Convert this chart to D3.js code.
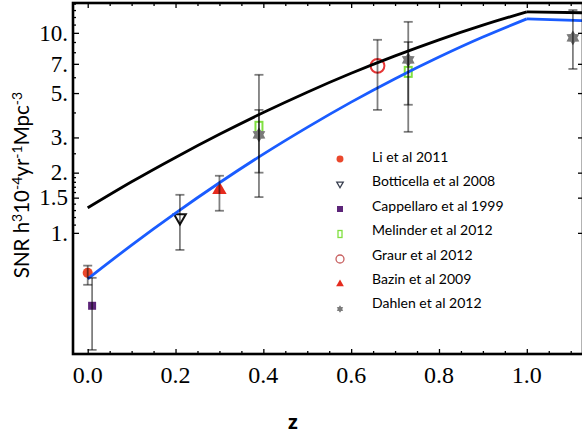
<!DOCTYPE html>
<html>
<head>
<meta charset="utf-8">
<script src="https://cdn.jsdelivr.net/npm/d3@7/dist/d3.min.js"></script>
<style>
	body { margin: 0; background: #fff; }
	svg { display: block; }
	.tick line { stroke: #000; stroke-width: 1.3; }
</style>
</head>
<body>
<svg id="chart" width="582" height="436"></svg>
<script>
// model curves (z grid shared by both)
var zGrid = [0, 0.1, 0.2, 0.3, 0.4, 0.5, 0.6, 0.7, 0.8, 0.9, 1.0, 1.13];
var blackRate = [1.334, 1.80, 2.384, 3.11, 3.996, 5.05, 6.28, 7.67, 9.23, 10.93, 12.74, 12.6];
var blueRate = [0.589, 0.869, 1.256, 1.78, 2.476, 3.37, 4.505, 5.90, 7.57, 9.53, 11.75, 11.5];

// measurements
var sources = ["Li et al 2011", "Botticella et al 2008", "Cappellaro et al 1999", "Melinder et al 2012", "Graur et al 2012", "Bazin et al 2009", "Dahlen et al 2012"];
var pointSource = [0, 2, 1, 5, 3, 6, 4, 3, 6, 6];
var pointZ = [0.0, 0.01, 0.21, 0.30, 0.39, 0.39, 0.66, 0.73, 0.73, 1.105];
var pointRate = [0.631, 0.432, 1.19, 1.64, 3.39, 3.09, 6.84, 6.38, 7.33, 9.44];
var pointLo = [0.55, 0.26, 0.822, 1.29, 2.0, 1.51, 4.12, 4.37, 3.2, 6.6];
var pointHi = [0.686, 0.596, 1.55, 1.93, 4.12, 6.17, 9.23, 9.0, 11.35, 13.0];

// axis ticks
var xMajor = [0, 0.2, 0.4, 0.6, 0.8, 1.0];
var xMinor = [0.05, 0.1, 0.15, 0.25, 0.3, 0.35, 0.45, 0.5, 0.55, 0.65, 0.7, 0.75, 0.85, 0.9, 0.95, 1.05, 1.1];
var yMajor = [1, 1.5, 2, 3, 5, 7, 10];
var yMajorLabels = ["1.", "1.5", "2.", "3.", "5.", "7.", "10."];
var yMinor = [1.1, 1.2, 1.3, 1.4, 1.6, 1.7, 1.8, 1.9, 2.5, 4, 6, 8, 9, 11, 12, 13, 14];

var svg = d3.select("#chart");
var frame = {left: 73, right: 583, top: 3, bottom: 354};

var x = d3.scaleLinear().domain([-0.0335, 1.128]).range([frame.left, frame.right]);
var y = d3.scaleLog().domain([0.248, 14.1]).range([frame.bottom, frame.top]);

svg.append("defs").append("clipPath").attr("id", "plotclip")
	.append("rect").attr("x", frame.left).attr("y", frame.top)
	.attr("width", frame.right - frame.left).attr("height", frame.bottom - frame.top);

// six pointed star for Dahlen
var hexStar = {
	draw: function(context, size) {
		var r = Math.sqrt(size / 2.2), ri = r * 0.6;
		for (var i = 0; i < 12; i++) {
			var a = i * Math.PI / 6 - Math.PI / 2, rr = i % 2 ? ri : r;
			if (i == 0) context.moveTo(rr * Math.cos(a), rr * Math.sin(a));
			else context.lineTo(rr * Math.cos(a), rr * Math.sin(a));
		}
		context.closePath();
	}
};

// marker style per source
var styles = [
	{ type: d3.symbolCircle, size: 80, legendSize: 38, fill: "#ea482c", stroke: "none", sw: 0, rot: 0 },
	{ type: d3.symbolTriangle, size: 60, legendSize: 18, fill: "#fff", stroke: "#111", sw: 2, lsw: 1.3, lstroke: "#3a4050", rot: 180 },
	{ type: d3.symbolSquare, size: 64, legendSize: 36, fill: "#5c2579", stroke: "none", sw: 0, rot: 0 },
	{ type: "rect", w: 7, h: 10, lw: 4, lh: 7, fill: "none", stroke: "#80e040", sw: 2, lsw: 1.3, rot: 0 },
	{ type: d3.symbolCircle, size: 150, legendSize: 50, fill: "none", stroke: "#e63535", sw: 2, lsw: 1.3, lstroke: "#c86060", rot: 0 },
	{ type: d3.symbolTriangle, size: 90, legendSize: 26, fill: "#e52b1e", stroke: "none", sw: 0, rot: 0 },
	{ type: hexStar, size: 120, legendSize: 30, fill: "#7a7a7a", stroke: "none", sw: 0, rot: 0 }
];

function drawMarker(g, s, cx, cy, legend) {
	if (s.type == "rect") {
		var w = legend ? s.lw : s.w, h = legend ? s.lh : s.h;
		g.append("rect")
			.attr("x", cx - w / 2).attr("y", cy - h / 2)
			.attr("width", w).attr("height", h)
			.attr("fill", s.fill).attr("stroke", s.stroke)
			.attr("stroke-width", legend ? s.lsw : s.sw);
		return;
	}
	g.append("path")
		.attr("d", d3.symbol().type(s.type).size(legend ? s.legendSize : s.size)())
		.attr("transform", "translate(" + cx + "," + cy + ") rotate(" + s.rot + ")")
		.attr("fill", s.fill)
		.attr("stroke", legend && s.lstroke ? s.lstroke : s.stroke)
		.attr("stroke-width", legend ? (s.lsw || 0) : s.sw);
}

// markers
var marks = svg.append("g");
pointZ.forEach(function(z, i) {
	drawMarker(marks, styles[pointSource[i]], x(z), y(pointRate[i]), false);
});

// curves, sharp corner at z = 1
var plot = svg.append("g").attr("clip-path", "url(#plotclip)");
function drawCurve(rates, color) {
	var pts = zGrid.map(function(z, i) { return [z, rates[i]]; });
	var smooth = d3.line().x(function(d) { return x(d[0]); }).y(function(d) { return y(d[1]); }).curve(d3.curveNatural);
	var straight = d3.line().x(function(d) { return x(d[0]); }).y(function(d) { return y(d[1]); });
	plot.append("path").attr("d", smooth(pts.slice(0, pts.length - 1)))
		.attr("fill", "none").attr("stroke", color).attr("stroke-width", 2.8);
	plot.append("path").attr("d", straight(pts.slice(pts.length - 2)))
		.attr("fill", "none").attr("stroke", color).attr("stroke-width", 2.8);
}
drawCurve(blackRate, "#000");
drawCurve(blueRate, "#1a5cff");

// error bars
var bars = svg.append("g").attr("stroke", "rgba(0,0,0,0.5)").attr("stroke-width", 1.8);
pointZ.forEach(function(z, i) {
	var cx = x(z);
	bars.append("line").attr("x1", cx).attr("x2", cx).attr("y1", y(pointLo[i])).attr("y2", y(pointHi[i]));
	[pointLo[i], pointHi[i]].forEach(function(v) {
		bars.append("line").attr("x1", cx - 4.5).attr("x2", cx + 4.5).attr("y1", y(v)).attr("y2", y(v));
	});
});

// axes: ticks inside the frame
function ticks(axis, tr, size, vals) {
	var g = svg.append("g").attr("transform", tr)
		.call(axis.tickValues(vals).tickSize(size).tickFormat(""));
	g.select(".domain").remove();
	return g;
}
ticks(d3.axisBottom(x), "translate(0," + frame.bottom + ")", -5, xMajor);
ticks(d3.axisBottom(x), "translate(0," + frame.bottom + ")", -3, xMinor);
ticks(d3.axisTop(x), "translate(0," + frame.top + ")", -5, xMajor);
ticks(d3.axisTop(x), "translate(0," + frame.top + ")", -3, xMinor);
ticks(d3.axisLeft(y), "translate(" + frame.left + ",0)", -6, yMajor);
ticks(d3.axisLeft(y), "translate(" + frame.left + ",0)", -3, yMinor);
ticks(d3.axisRight(y), "translate(" + frame.right + ",0)", -5, yMajor);

svg.append("rect").attr("x", frame.left).attr("y", frame.top)
	.attr("width", frame.right - frame.left).attr("height", frame.bottom - frame.top)
	.attr("fill", "none").attr("stroke", "#000").attr("stroke-width", 2.6);

// tick labels
svg.append("g").selectAll("text").data(xMajor).join("text")
	.attr("x", function(d) { return x(d); }).attr("y", 383)
	.attr("text-anchor", "middle")
	.style("font-family", "'Liberation Serif', serif").style("font-size", "24px")
	.text(function(d) { return d3.format(".1f")(d); });
svg.append("g").selectAll("text").data(yMajor).join("text")
	.attr("x", 68).attr("y", function(d) { return y(d); }).attr("dy", "0.34em")
	.attr("text-anchor", "end")
	.style("font-family", "'Liberation Serif', serif").style("font-size", "23px")
	.text(function(d, i) { return yMajorLabels[i]; });

// axis titles
svg.append("text").attr("x", 293).attr("y", 429).attr("text-anchor", "middle")
	.style("font-family", "'Open Sans', sans-serif").style("font-weight", "bold").style("font-size", "20px")
	.text("z");

var yt = svg.append("text").attr("transform", "translate(29,185) rotate(-90)")
	.attr("text-anchor", "middle")
	.style("font-family", "Lato, sans-serif").style("font-size", "20.5px");
[["SNR h", 0], ["3", 1], ["10", 0], ["-4", 1], ["yr", 0], ["-1", 1], ["Mpc", 0], ["-3", 1]].forEach(function(p, i, arr) {
	var shift = 0;
	if (p[1]) shift = -7.5;
	else if (i > 0 && arr[i - 1][1]) shift = 7.5;
	yt.append("tspan").attr("dy", shift).style("font-size", p[1] ? "14px" : null).text(p[0]);
});

// legend
var legend = svg.append("g");
sources.forEach(function(name, i) {
	drawMarker(legend, styles[i], 340, 159 + i * 25, true);
	legend.append("text").attr("x", 372).attr("y", 162 + i * 24.4)
		.style("font-family", "Lato, sans-serif").style("font-size", "14px")
		.text(name);
});
</script>
</body>
</html>
